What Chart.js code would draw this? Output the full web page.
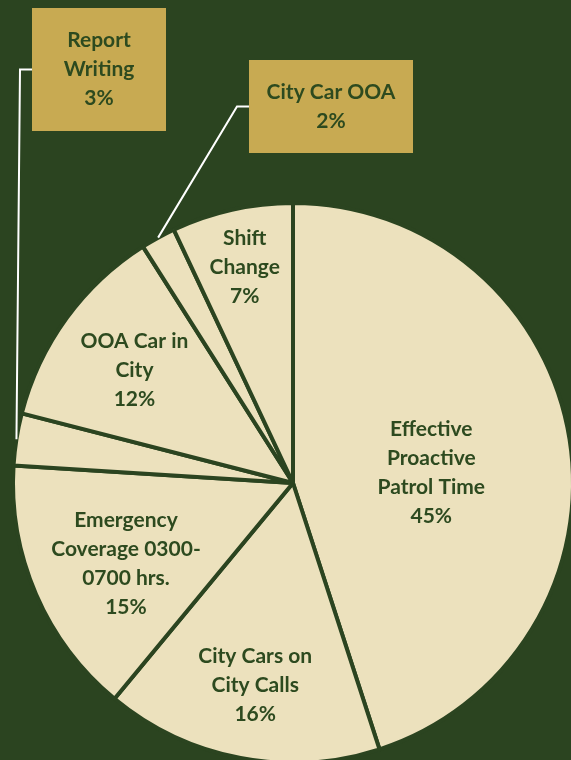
<!DOCTYPE html>
<html>
<head>
<meta charset="utf-8">
<script src="https://cdn.jsdelivr.net/npm/chart.js@4"></script>
<style>
  html, body { margin: 0; padding: 0; background: #2b4420; overflow: hidden; }
  #wrap { position: absolute; left: 0; top: 0; width: 600px; height: 780px; }
</style>
</head>
<body>
<div id="wrap"><canvas id="timePie"></canvas></div>
<script>
// categories, clockwise from 12 o'clock
const categories = [
  ['Effective', 'Proactive', 'Patrol Time'],
  ['City Cars on', 'City Calls'],
  ['Emergency', 'Coverage 0300-', '0700 hrs.'],
  ['Report', 'Writing'],
  ['OOA Car in', 'City'],
  ['City Car OOA'],
  ['Shift', 'Change']
];
const shares = [45, 16, 15, 3, 12, 2, 7];

const BG = '#2b4420';
const SLICE = '#ece1bd';
const INK = '#2d4a1f';
const GOLD = '#c8aa52';

// where each label sits: radial fraction inside the slice (plus a small nudge), or a callout box
const labelPlace = [
  { r: 0.50, dy: 12 },
  { r: 0.72, dy: 4 },
  { r: 0.65, dy: 8 },
  { box: { x: 32, y: 8, w: 134, h: 123 }, elbow: 20 },
  { r: 0.70, dy: 2 },
  { box: { x: 249, y: 60, w: 164, h: 93 }, elbow: 237 },
  { r: 0.79, dy: 0 }
];

const FONT = 'bold 21px Lato, "Open Sans", sans-serif';
const LINE_H = 29;

function drawLines(ctx, lines, cx, cy) {
  const top = cy - (lines.length - 1) * LINE_H / 2;
  lines.forEach((t, i) => ctx.fillText(t, cx, top + i * LINE_H));
}

const pieLabels = {
  id: 'pieLabels',
  afterDatasetsDraw(chart) {
    const ctx = chart.ctx;
    const arcs = chart.getDatasetMeta(0).data;
    ctx.save();
    ctx.font = FONT;
    ctx.textAlign = 'center';
    ctx.textBaseline = 'middle';
    arcs.forEach((arc, i) => {
      const { x, y, startAngle, endAngle, outerRadius } = arc.getProps(['x', 'y', 'startAngle', 'endAngle', 'outerRadius'], true);
      const mid = (startAngle + endAngle) / 2;
      const lines = categories[i].concat([shares[i] + '%']);
      const place = labelPlace[i];
      if (place.box) {
        const b = place.box;
        const ex = x + Math.cos(mid) * outerRadius;
        const ey = y + Math.sin(mid) * outerRadius;
        const by = b.y + b.h / 2;
        // leader line
        ctx.strokeStyle = '#ffffff';
        ctx.lineWidth = 2;
        ctx.beginPath();
        ctx.moveTo(b.x, by);
        ctx.lineTo(place.elbow, by);
        ctx.lineTo(ex, ey);
        ctx.stroke();
        ctx.fillStyle = GOLD;
        ctx.fillRect(b.x, b.y, b.w, b.h);
        ctx.fillStyle = INK;
        drawLines(ctx, lines, b.x + b.w / 2, by);
      } else {
        const rr = outerRadius * place.r;
        ctx.fillStyle = INK;
        drawLines(ctx, lines, x + Math.cos(mid) * rr, y + Math.sin(mid) * rr + place.dy);
      }
    });
    ctx.restore();
  }
};

new Chart(document.getElementById('timePie'), {
  type: 'pie',
  data: {
    labels: categories.map(l => l.join(' ')),
    datasets: [{
      data: shares,
      backgroundColor: SLICE,
      borderColor: BG,
      borderWidth: 4,
      hoverOffset: 0
    }]
  },
  options: {
    responsive: true,
    maintainAspectRatio: false,
    animation: false,
    layout: { padding: { left: 11, right: 25, top: 201, bottom: 15 } },
    plugins: {
      legend: { display: false },
      tooltip: { enabled: false }
    }
  },
  plugins: [pieLabels]
});
</script>
</body>
</html>
